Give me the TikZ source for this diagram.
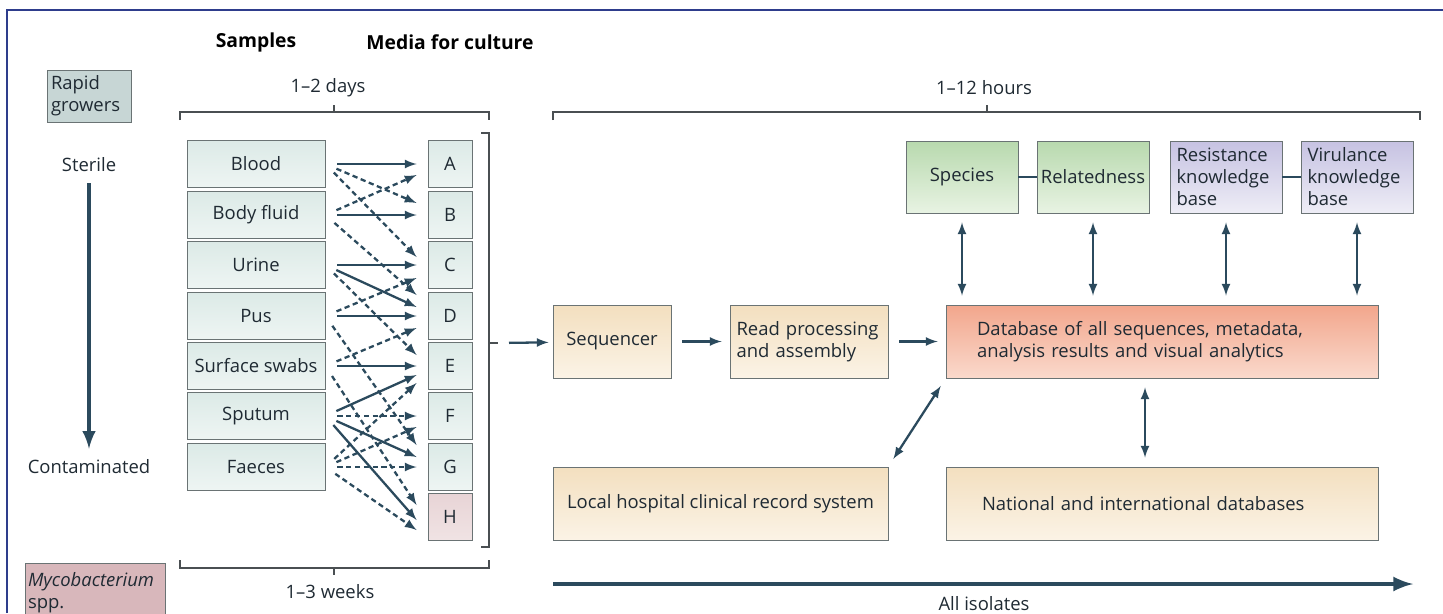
\documentclass[tikz,border=0pt]{standalone}
\usepackage{fontspec}
\setmainfont{Open Sans}
\usetikzlibrary{positioning}

\definecolor{ink}{HTML}{2B4A5D}
\definecolor{txt}{HTML}{1F2A33}
\definecolor{frameblue}{HTML}{2E3D8C}
\definecolor{edgegray}{HTML}{6A7374}
\definecolor{bracketgray}{HTML}{4A4F52}
\definecolor{samptop}{HTML}{DCEAE7}
\definecolor{sampbot}{HTML}{EEF5F3}
\definecolor{htop}{HTML}{E8D4D6}
\definecolor{hbot}{HTML}{F0E3E4}
\definecolor{rapidfill}{HTML}{C7D6D5}
\definecolor{mycofill}{HTML}{D8B7BB}
\definecolor{beigetop}{HTML}{F3DFBF}
\definecolor{beigebot}{HTML}{FBF3E6}
\definecolor{salmontop}{HTML}{F2A68C}
\definecolor{salmonbot}{HTML}{FAD9CC}
\definecolor{greentop}{HTML}{B8D9AE}
\definecolor{greenbot}{HTML}{E8F3E3}
\definecolor{purpletop}{HTML}{C6C2E2}
\definecolor{purplebot}{HTML}{EEEDF6}

\begin{document}
\begin{tikzpicture}[x=0.02cm, y=-0.02cm, font=\fontsize{10.5}{12.5}\selectfont, text=txt,
    box/.style={draw=edgegray, line width=0.5pt, inner sep=0pt, text=txt},
    sample/.style={box, top color=samptop, bottom color=sampbot, minimum width=2.76cm, minimum height=0.94cm},
    medium/.style={sample, minimum width=0.88cm},
    hmedium/.style={medium, top color=htop, bottom color=hbot},
    stage/.style={box, top color=beigetop, bottom color=beigebot, minimum height=1.46cm},
    result/.style={box, top color=greentop, bottom color=greenbot, minimum width=2.24cm, minimum height=1.44cm},
    knowledge/.style={result, top color=purpletop, bottom color=purplebot, align=left, text width=1.98cm},
    solidlink/.style={-latex, color=ink, line width=1.3pt, shorten <=0.24cm},
    dashlink/.style={solidlink, dash pattern=on 3pt off 2pt},
    flowarrow/.style={-latex, color=ink, line width=1.3pt},
    twoway/.style={latex-latex, color=ink, line width=1.3pt, shorten <=0.18cm, shorten >=0.18cm},
    bracket/.style={draw=bracketgray, line width=0.7pt},
    header/.style={font=\fontsize{11}{13}\selectfont\bfseries, text=black}]

\useasboundingbox (0,0) rectangle (1443,613);
\draw[frameblue, line width=0.6pt] (7,613) -- (7,10) -- (1443,10);

% headers and time scales
\node[header] (hsamples) at (256,42) {Samples};
\node[header] (hmedia) at (450,42) {Media for culture};
\node (days) at (328,88) {1--2 days};
\node (hours) at (984,88) {1--12 hours};
\node (weeks) at (330,592) {1--3 weeks};
\draw[bracket] (180,120) -- (180,112) -- (489,112) -- (489,120) (334,112) -- (334,105);
\draw[bracket] (553,120) -- (553,112) -- (1420,112) -- (1420,120) (987,112) -- (987,105);
\draw[bracket] (180,560) -- (180,568) -- (489,568) -- (489,560) (334,568) -- (334,575);
\draw[bracket] (481,133) -- (489,133) -- (489,547) -- (481,547) (489,343) -- (498,343);
\coordinate (mbrk) at (498,343);

% growth groups
\node[box, fill=rapidfill, minimum width=1.68cm, minimum height=1.04cm, align=left, text width=1.52cm] (rapid) at (89,96) {Rapid\\growers};
\node[box, fill=mycofill, minimum width=2.8cm, minimum height=1.2cm, align=left, text width=2.68cm] (myco) at (95,593) {\textit{Mycobacterium}\\spp.};

\node (sterile) at (89,165) {Sterile};
\node (contam) at (89,467) {Contaminated};
\draw[-latex, draw=ink, line width=2.4pt, shorten <=0.1cm, shorten >=0.1cm] (sterile) -- (contam);

% samples
\node[sample] (sBlood) at (256,164) {Blood};
\node[sample] (sFluid) at (256,215) {Body fluid};
\node[sample] (sUrine) at (256,265) {Urine};
\node[sample] (sPus) at (256,316) {Pus};
\node[sample] (sSwabs) at (256,366) {Surface swabs};
\node[sample] (sSputum) at (256,416) {Sputum};
\node[sample] (sFaeces) at (256,467) {Faeces};

% media
\node[medium] (mA) at (450,164) {A};
\node[medium] (mB) at (450,215) {B};
\node[medium] (mC) at (450,265) {C};
\node[medium] (mD) at (450,316) {D};
\node[medium] (mE) at (450,366) {E};
\node[medium] (mF) at (450,416) {F};
\node[medium] (mG) at (450,467) {G};
\node[hmedium] (mH) at (450,517) {H};

\path [solidlink] (sBlood.east) edge ([xshift=-0.22cm]mA.west);
\path [solidlink] (sFluid.east) edge ([xshift=-0.22cm]mB.west);
\path [solidlink] (sUrine.east) edge ([xshift=-0.22cm]mC.west);
\path [solidlink] (sUrine.east) edge ([xshift=-0.22cm,yshift=0.18cm]mD.west);
\path [solidlink] (sPus.east) edge ([xshift=-0.22cm]mD.west);
\path [solidlink] (sSwabs.east) edge ([xshift=-0.22cm]mE.west);
\path [solidlink] (sSputum.east) edge ([xshift=-0.22cm,yshift=-0.18cm]mE.west);
\path [solidlink] (sSputum.east) edge ([xshift=-0.22cm,yshift=0.2cm]mG.west);
\path [solidlink] (sSputum.east) edge ([xshift=-0.22cm,yshift=-0.06cm]mH.west);

\path [dashlink] (sBlood.east) edge ([xshift=-0.22cm,yshift=0.24cm]mB.west);
\path [dashlink] (sBlood.east) edge ([xshift=-0.22cm,yshift=0.16cm]mC.west);
\path [dashlink] (sFluid.east) edge ([xshift=-0.22cm,yshift=-0.22cm]mA.west);
\path [dashlink] (sFluid.east) edge ([xshift=-0.22cm,yshift=0.42cm]mD.west);
\path [dashlink] (sUrine.east) edge ([xshift=-0.22cm,yshift=0.22cm]mE.west);
\path [dashlink] (sPus.east) edge ([xshift=-0.22cm,yshift=-0.26cm]mC.west);
\path [dashlink] (sPus.east) edge ([xshift=-0.22cm,yshift=0.44cm]mG.west);
\path [dashlink] (sSwabs.east) edge ([xshift=-0.22cm,yshift=-0.24cm]mD.west);
\path [dashlink] (sSwabs.east) edge ([xshift=-0.22cm,yshift=0.24cm]mH.west);
\path [dashlink] (sSputum.east) edge ([xshift=-0.22cm]mF.west);
\path [dashlink] (sFaeces.east) edge ([xshift=-0.22cm,yshift=-0.34cm]mE.west);
\path [dashlink] (sFaeces.east) edge ([xshift=-0.22cm,yshift=-0.22cm]mF.west);
\path [dashlink] (sFaeces.east) edge ([xshift=-0.22cm]mG.west);
\path [dashlink] (sFaeces.east) edge ([xshift=-0.22cm,yshift=-0.26cm]mH.west);

% sequencing and analysis
\node[stage, minimum width=2.36cm] (seq) at (612,341.5) {Sequencer};
\node[stage, minimum width=3.16cm, text width=2.9cm, align=left] (reads) at (809,341.5) {Read processing\\and assembly};
\node[stage, minimum width=8.64cm, text width=7.4cm, align=left, top color=salmontop, bottom color=salmonbot] (db) at (1162,341.5) {Database of all sequences, metadata,\\analysis results and visual analytics};
\node[stage, minimum width=6.7cm] (local) at (720.5,503.5) {Local hospital clinical record system};
\node[stage, minimum width=8.64cm, text width=7.2cm, align=left] (national) at (1162,503.5) {National and international databases};

\node[result] (species) at (962,177) {Species};
\node[result] (related) at (1093,177) {Relatedness};
\node[knowledge] (resist) at (1226,177) {Resistance\\knowledge\\base};
\node[knowledge] (virul) at (1357,177) {Virulance\\knowledge\\base};

\path [flowarrow, shorten <=0.22cm, shorten >=0.08cm] (mbrk) edge (seq);
\path [flowarrow, shorten <=0.22cm, shorten >=0.16cm] (seq) edge (reads);
\path [flowarrow, shorten <=0.22cm, shorten >=0.16cm] (reads) edge (db);

\draw[ink, line width=1.2pt] (species) -- (related);
\draw[ink, line width=1.2pt] (resist) -- (virul);

\path [twoway] (species.south) edge (species.south |- db.north);
\path [twoway] (related.south) edge (related.south |- db.north);
\path [twoway] (resist.south) edge (resist.south |- db.north);
\path [twoway] (virul.south) edge (virul.south |- db.north);
\path [twoway] (db.south west) edge (local.north east);
\path [twoway] ([xshift=-0.34cm]db.south) edge ([xshift=-0.34cm]national.north);

% all isolates
\coordinate (isoStart) at (553,584);
\coordinate (isoEnd) at (1413,584);
\draw[-latex, draw=ink, line width=2.8pt] (isoStart) -- (isoEnd);
\node (isolates) at (984,604) {All isolates};
\end{tikzpicture}
\end{document}
